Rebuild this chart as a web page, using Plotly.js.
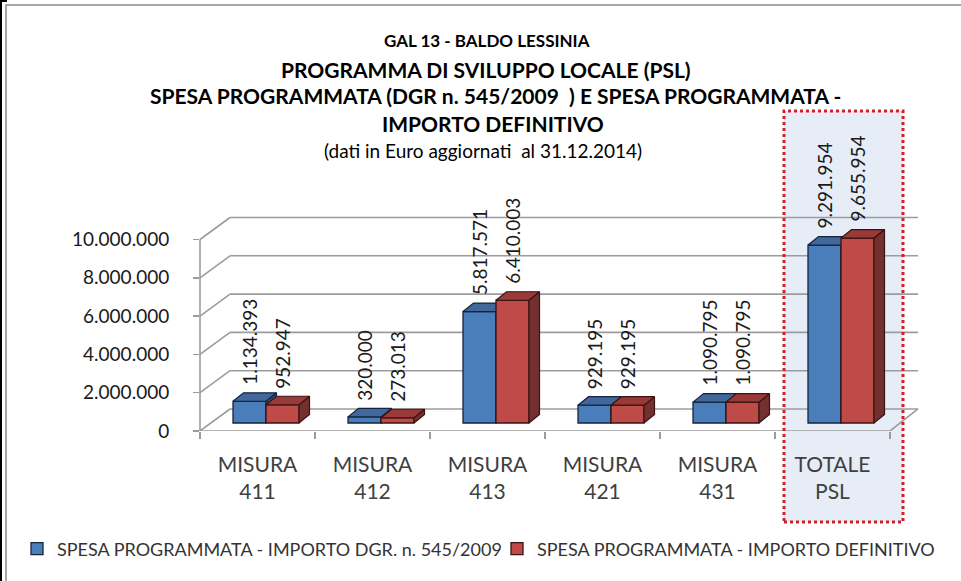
<!DOCTYPE html>
<html>
<head>
<meta charset="utf-8">
<script src="https://cdn.plot.ly/plotly-3.0.1.min.js"></script>
<style>html,body{margin:0;padding:0;background:#fff;}#chart{width:961px;height:581px;}</style>
</head>
<body>
<div id="chart"></div>
<script>
// ---------------- DATA ----------------
const categories = ['MISURA<br>411', 'MISURA<br>412', 'MISURA<br>413', 'MISURA<br>421', 'MISURA<br>431', 'TOTALE<br>PSL'];
const seriesNames = ['SPESA PROGRAMMATA - IMPORTO DGR. n. 545/2009', 'SPESA PROGRAMMATA - IMPORTO DEFINITIVO'];
const importoDGR = [1134393, 320000, 5817571, 929195, 1090795, 9291954];
const importoDefinitivo = [952947, 273013, 6410003, 929195, 1090795, 9655954];
const yTickVals = [0, 2000000, 4000000, 6000000, 8000000, 10000000];
const titleLines = [
  'GAL 13 - BALDO LESSINIA',
  'PROGRAMMA DI SVILUPPO LOCALE (PSL)',
  'SPESA PROGRAMMATA (DGR n. 545/2009 \u00a0) E SPESA PROGRAMMATA -',
  'IMPORTO DEFINITIVO',
  '(dati in Euro aggiornati \u00a0al 31.12.2014)'
];

// ---------------- GEOMETRY (pixels) ----------------
const W = 961, H = 581;
const PLOT_L = 200, PLOT_R = 918, PLOT_T = 215, PLOT_B = 431;
const CAT_PX = 115;                 // width of a category on the front edge
const K = 19.15 / 1e6;              // px per euro
const BAR_BASE_PX = 423;            // bottom of bars front face
const BACK_OFF_PX = 22;             // back wall offset (vertical)
const BACK_DX_PX = 30;              // back wall offset (horizontal)
const GROUP_SHIFT = 8.5 / CAT_PX;   // bars pair shift from category centre
const BAR_W = 33 / CAT_PX;
const DX = 10.5 / CAT_PX;           // 3D depth, x units
const DY = 8.5 / K;                 // 3D depth, value units
const LABEL_SHIFT = 14;

const px2x = px => (px - PLOT_L) / (PLOT_R - PLOT_L);
const px2y = py => (PLOT_B - py) / (PLOT_B - PLOT_T);
const plotH = PLOT_B - PLOT_T;
const barRange = [-(PLOT_B - BAR_BASE_PX) / K, (BAR_BASE_PX - PLOT_T) / K];
const frontRange = [-1000, plotH / K];
const xRange = [-0.5, -0.5 + (PLOT_R - PLOT_L) / CAT_PX];

const FONT = 'Lato, "Open Sans", sans-serif';
const GRID = '#9c9c9c';

const xCenters = categories.map((_, i) => i + GROUP_SHIFT);
const boundaries = categories.map((_, i) => i - 0.5).concat([categories.length - 0.5]);

function fmt(v) { return String(v).replace(/\B(?=(\d{3})+(?!\d))/g, '.'); }

function seriesTraces(vals, name, colors, offset, yaxis, legendId) {
  const topX = [], topY = [], sideX = [], sideY = [];
  vals.forEach((v, i) => {
    const x0 = xCenters[i] + offset, x1 = x0 + BAR_W;
    topX.push(x0, x1, x1 + DX, x0 + DX, x0, null);
    topY.push(v, v, v + DY, v + DY, v, null);
    sideX.push(x1, x1, x1 + DX, x1 + DX, x1, null);
    sideY.push(0, v, v + DY, DY, 0, null);
  });
  return [
    { type: 'bar', name: name, x: xCenters, y: vals, width: BAR_W, offset: offset,
      marker: { color: colors.front, line: { color: colors.edge, width: 1.3 } },
      xaxis: 'x', yaxis: yaxis, showlegend: true, legend: legendId, hovertemplate: '%{y:,d}<extra>' + name + '</extra>' },
    { type: 'scatter', mode: 'lines', x: sideX, y: sideY, fill: 'toself', fillcolor: colors.side,
      line: { color: colors.edge, width: 1.2 }, xaxis: 'x', yaxis: yaxis, showlegend: false, hoverinfo: 'skip' },
    { type: 'scatter', mode: 'lines', x: topX, y: topY, fill: 'toself', fillcolor: colors.top,
      line: { color: colors.edge, width: 1.2 }, xaxis: 'x', yaxis: yaxis, showlegend: false, hoverinfo: 'skip' }
  ];
}

const blue = { front: '#4a7ebb', top: '#42679a', side: '#2f4e7a', edge: '#15243d' };
const red = { front: '#be4b48', top: '#9a3a38', side: '#73302f', edge: '#3a1312' };

const traces = []
  .concat(seriesTraces(importoDGR, seriesNames[0], blue, -BAR_W, 'y', 'legend'))
  .concat(seriesTraces(importoDefinitivo, seriesNames[1], red, 0, 'y2', 'legend2'));

// ---------------- SHAPES ----------------
const shapes = [];
shapes.push({ type: 'rect', xref: 'paper', yref: 'paper', x0: px2x(784), x1: px2x(903), y0: px2y(522), y1: px2y(111),
  fillcolor: '#e7edf7', line: { width: 0 }, layer: 'below' });
const backOff = BACK_OFF_PX / K;
yTickVals.forEach(v => {
  shapes.push({ type: 'line', xref: 'paper', yref: 'y3', x0: px2x(PLOT_L + BACK_DX_PX), x1: 1, y0: v + backOff, y1: v + backOff,
    line: { color: GRID, width: 1.6 }, layer: 'below' });
  shapes.push({ type: 'line', xref: 'paper', yref: 'y3', x0: 0, x1: px2x(PLOT_L + BACK_DX_PX), y0: v, y1: v + backOff,
    line: { color: GRID, width: 1.6 }, layer: 'below' });
});
shapes.push({ type: 'line', xref: 'paper', yref: 'y3', x0: 0, x1: 0, y0: 0, y1: yTickVals[yTickVals.length - 1],
  line: { color: GRID, width: 1.6 }, layer: 'below' });
const frontEnd = px2x(PLOT_L + CAT_PX * categories.length);
shapes.push({ type: 'line', xref: 'paper', yref: 'y3', x0: 0, x1: frontEnd, y0: 0, y1: 0,
  line: { color: GRID, width: 1.6 }, layer: 'below' });
shapes.push({ type: 'line', xref: 'paper', yref: 'y3', x0: frontEnd, x1: 1, y0: 0, y1: backOff,
  line: { color: GRID, width: 1.6 }, layer: 'below' });
shapes.push({ type: 'rect', xref: 'paper', yref: 'paper', x0: px2x(784), x1: px2x(903), y0: px2y(522), y1: px2y(111),
  line: { color: '#d0202a', width: 3, dash: 'dot' }, fillcolor: 'rgba(0,0,0,0)', layer: 'above' });
shapes.push({ type: 'rect', xref: 'paper', yref: 'paper', x0: px2x(6), x1: px2x(975), y0: px2y(595), y1: px2y(5),
  line: { color: '#8a8a8a', width: 1.5 }, fillcolor: 'rgba(0,0,0,0)', layer: 'above' });
shapes.push({ type: 'line', xref: 'paper', yref: 'paper', x0: px2x(1), x1: px2x(1), y0: px2y(0), y1: px2y(H),
  line: { color: '#000', width: 2 }, layer: 'above' });
shapes.push({ type: 'line', xref: 'paper', yref: 'paper', x0: px2x(0), x1: px2x(7), y0: px2y(1), y1: px2y(1),
  line: { color: '#000', width: 2 }, layer: 'above' });

// ---------------- ANNOTATIONS ----------------
const annotations = [];
const titleSpec = [
  { y: 40, cx: 487, size: 17, bold: true },
  { y: 69, cx: 486, size: 21, bold: true },
  { y: 95, cx: 495, size: 21, bold: true },
  { y: 123, cx: 493, size: 21, bold: true },
  { y: 150, cx: 483, size: 19, bold: false }
];
titleLines.forEach((t, i) => {
  const s = titleSpec[i];
  annotations.push({ xref: 'paper', yref: 'paper', x: px2x(s.cx), y: px2y(s.y), xanchor: 'center', yanchor: 'middle',
    showarrow: false, text: s.bold ? '<b>' + t + '</b>' : t,
    font: { family: FONT, size: s.size, color: '#000' } });
});
function labelAnn(vals, offset) {
  vals.forEach((v, i) => {
    annotations.push({ xref: 'x', yref: 'y', x: xCenters[i] + offset + BAR_W / 2, y: v, textangle: -90,
      xanchor: 'center', yanchor: 'bottom', yshift: LABEL_SHIFT, showarrow: false, text: fmt(v),
      font: { family: FONT, size: 19, color: '#1a1a1a' } });
  });
}
labelAnn(importoDGR, -BAR_W);
labelAnn(importoDefinitivo, 0);

// ---------------- LAYOUT ----------------
const legendCommon = { orientation: 'h', xanchor: 'left', yanchor: 'middle', y: px2y(549),
  font: { family: FONT, size: 18, color: '#333' }, bgcolor: 'rgba(0,0,0,0)', borderwidth: 0, itemwidth: 30 };

const layout = {
  width: W, height: H,
  margin: { l: PLOT_L, r: W - PLOT_R, t: PLOT_T, b: H - PLOT_B, pad: 0 },
  paper_bgcolor: '#ffffff', plot_bgcolor: 'rgba(0,0,0,0)',
  separators: ',.',
  barmode: 'overlay',
  font: { family: FONT, color: '#1a1a1a' },
  xaxis: { range: xRange, tickmode: 'array', tickvals: categories.map((_, i) => i), ticktext: categories,
    ticks: '', showgrid: false, zeroline: false, showline: false, fixedrange: true,
    tickfont: { family: FONT, size: 21, color: '#404040' }, ticklabelstandoff: 19,
    minor: { tickmode: 'array', tickvals: boundaries, ticks: 'outside', ticklen: 7, tickcolor: GRID, tickwidth: 1.5, showgrid: false } },
  yaxis: { range: barRange, showgrid: false, zeroline: false, showline: false, showticklabels: false, ticks: '', fixedrange: true },
  yaxis2: { range: barRange, overlaying: 'y', anchor: 'x', showgrid: false, zeroline: false, showline: false, showticklabels: false, ticks: '', fixedrange: true },
  yaxis3: { range: frontRange, overlaying: 'y', anchor: 'x', side: 'left', tickmode: 'array', tickvals: yTickVals, tickformat: ',d',
    ticks: 'outside', ticklen: 6, tickcolor: GRID, tickwidth: 1.5, showgrid: false, zeroline: false, showline: false,
    tickfont: { family: FONT, size: 19, color: '#1a1a1a' }, ticklabelstandoff: 20, fixedrange: true },
  showlegend: true,
  legend: Object.assign({}, legendCommon, { x: px2x(17) }),
  legend2: Object.assign({}, legendCommon, { x: px2x(497) }),
  shapes: shapes,
  annotations: annotations
};

Plotly.newPlot('chart', traces, layout, { displayModeBar: false, staticPlot: true });
</script>
</body>
</html>
